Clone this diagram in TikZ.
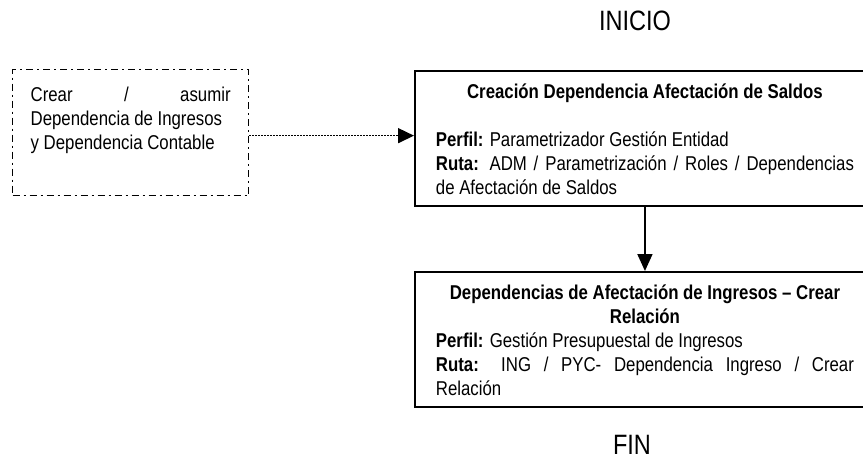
\documentclass[tikz,border=0pt]{standalone}
\usepackage{fontspec}
\setmainfont[FakeStretch=0.84]{Liberation Sans}
\usetikzlibrary{arrows.meta}
\setlength{\parindent}{0pt}
\newcommand\topstrut{\rule{0pt}{20pt}}
\newcommand\botstrut{\rule[-4pt]{0pt}{4pt}}
\tikzset{
  body/.style={font=\fontsize{20}{24}\selectfont},
  procbox/.style={body, draw, line width=1.9pt, anchor=north west,
    text width=418pt, inner xsep=21pt, inner ysep=7.5pt, align=justify},
  notebox/.style={body, draw, line width=1.3pt,
    dash pattern=on 7pt off 4pt on 2pt off 4pt, anchor=north west,
    text width=200pt, inner xsep=18pt, inner ysep=12pt, align=justify},
  term/.style={font=\fontsize{28}{32}\selectfont, anchor=base, inner sep=0pt},
  flow/.style={line width=1.8pt, -{Triangle[length=17pt,width=15pt]}},
  dotflow/.style={line width=1.5pt, dash pattern=on 1.5pt off 1.5pt,
    -{Triangle[length=16pt,width=15pt]}},
}
\begin{document}
\begin{tikzpicture}[x=1pt,y=-1pt]
\useasboundingbox (0,0) rectangle (863,459);
\node[term] (start) at (635,30) {INICIO};
\node[notebox] (note) at (12,69) {\topstrut Crear / asumir\linebreak \mbox{Dependencia de Ingresos}\newline y Dependencia Contable\rule[-34pt]{0pt}{1pt}};
\node[procbox] (box1) at (414,70) {{\centering\bfseries\topstrut Creación Dependencia Afectación de Saldos\par}
\mbox{}\par
\textbf{Perfil:} Parametrizador Gestión Entidad\par
\textbf{Ruta:} ADM / Parametrización / Roles / Dependencias\linebreak de Afectación de Saldos\botstrut};
\node[procbox] (box2) at (414,271) {{\centering\bfseries\topstrut Dependencias de Afectación de Ingresos – Crear\\ Relación\par}
\textbf{Perfil:} Gestión Presupuestal de Ingresos\par
\textbf{Ruta:} ING / PYC- Dependencia Ingreso / Crear\linebreak Relación\botstrut};
\node[term] (end) at (632,454) {FIN};
\draw[dotflow] ([yshift=-3pt]note.east) -- ([yshift=-3pt]note.east -| box1.west);
\draw[flow] (box1.south) -- (box2.north);
\end{tikzpicture}
\end{document}
